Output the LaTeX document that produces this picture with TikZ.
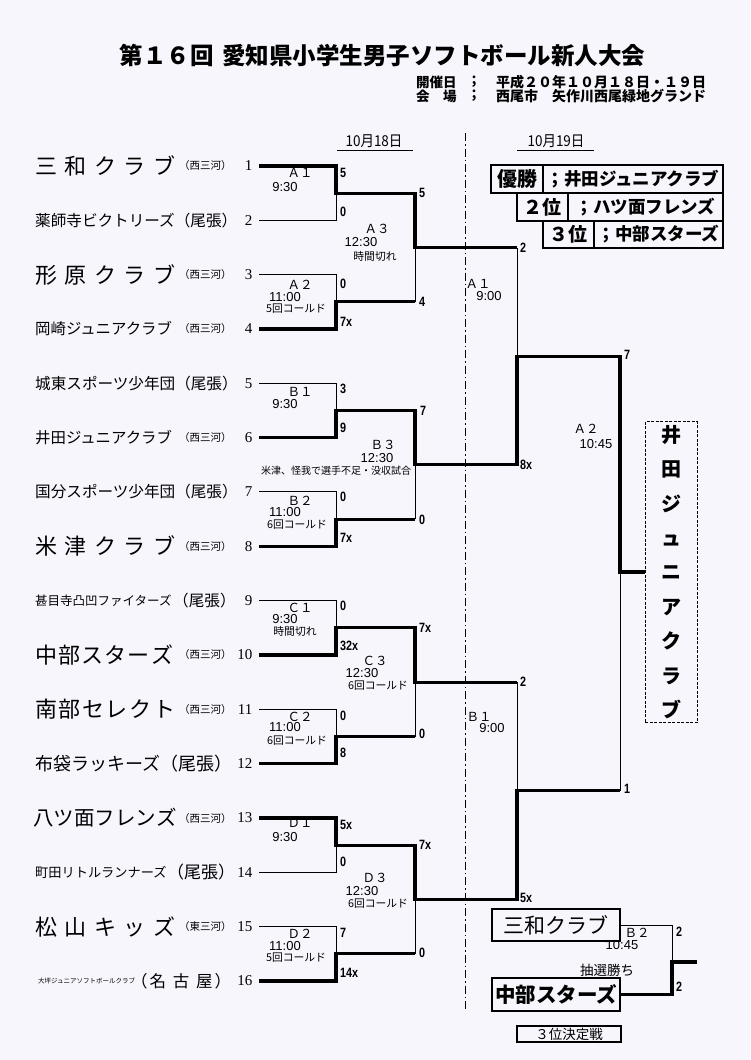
\documentclass[tikz,border=0pt]{standalone}
\usepackage{fontspec}
\setmainfont{Liberation Serif}
\setsansfont{Liberation Sans}
\newfontfamily\jp{Noto Sans CJK JP}
\newfontfamily\jpn[FakeStretch=0.9]{Noto Sans CJK JP}
\newfontfamily\scfont[FakeStretch=0.8]{Liberation Sans}
\newcommand\fsz[1]{\fontsize{#1}{#1}\selectfont}
\definecolor{paper}{RGB}{247,246,252}
\begin{document}
\begin{tikzpicture}[x=1pt,y=-1pt,
  lo/.style={line width=1pt},
  hi/.style={line width=3.2pt},
  team/.style={anchor=west,inner sep=0pt,font=\jp\fsz{15.5}},
  reg/.style={anchor=west,inner sep=0pt,font=\jp\fsz{10.5}},
  num/.style={anchor=east,inner sep=0pt,font=\fsz{15}},
  sc/.style={anchor=west,inner sep=0pt,font=\scfont\bfseries\fsz{13.5}},
  ml/.style={inner sep=0pt,font=\jp\fsz{12.5}},
  mt/.style={inner sep=0pt,font=\sffamily\fsz{13}},
  mn/.style={inner sep=0pt,font=\jp\fsz{10.8}},
  cell/.style={draw,line width=1.1pt,inner sep=0pt,font=\jp\bfseries\fsz{17.5}},
  box3/.style={draw,line width=1.1pt,inner sep=0pt,minimum width=128pt}
]
\useasboundingbox (0,0) rectangle (750,1060);
\fill[paper] (0,0) rectangle (750,1060);

% ---------- heading ----------
\node[font=\jp\bfseries\fsz{23.5},inner sep=0pt] (title) at (382.5,55)
  {第１６回\hspace{9pt}愛知県小学生男子ソフトボール新人大会};
\node[anchor=west,inner sep=0pt,font=\jp\bfseries\fsz{13.5}] (kaiA) at (416,82) {開催日};
\node[inner sep=0pt,font=\jp\bfseries\fsz{13.5}] (colA) at (474,82) {；};
\node[anchor=west,inner sep=0pt,font=\jp\bfseries\fsz{14}] (valA) at (496,82) {平成２０年１０月１８日・１９日};
\node[anchor=west,inner sep=0pt,font=\jp\bfseries\fsz{13.5}] (kaiB) at (416,96) {\makebox[40.5pt]{会\hfill 場}};
\node[inner sep=0pt,font=\jp\bfseries\fsz{13.5}] (colB) at (474,96) {；};
\node[anchor=west,inner sep=0pt,font=\jp\bfseries\fsz{14}] (valB) at (496,96) {西尾市　矢作川西尾緑地グランド};

% dates
\node[inner sep=0pt,font=\jpn\fsz{15}] (d18) at (374,141) {10月18日};
\node[inner sep=0pt,font=\jpn\fsz{15}] (d19) at (556,141) {10月19日};
\coordinate (u18a) at (337,150); \coordinate (u18b) at (413,150);
\coordinate (u19a) at (517,150); \coordinate (u19b) at (594,150);
\draw[lo] (u18a) -- (u18b);
\draw[lo] (u19a) -- (u19b);

% day divider
\coordinate (dtop) at (465,133); \coordinate (dbot) at (465,1010);
\draw[line width=1pt,dash pattern=on 8pt off 3pt on 1.5pt off 3pt] (dtop) -- (dbot);

% ---------- results table ----------
\node[cell,font=\jp\bfseries\fsz{20},minimum width=52pt,minimum height=28pt] (w1) at (517,179) {優勝};
\node[cell,minimum width=180pt,minimum height=28pt] (w1v) at (633,179) {；井田ジュニアクラブ};
\node[cell,font=\jp\bfseries\fsz{19},minimum width=51pt,minimum height=28pt] (w2) at (542.5,207) {２位};
\node[cell,minimum width=155pt,minimum height=28pt] (w2v) at (645.5,207) {；ハツ面フレンズ};
\node[cell,font=\jp\bfseries\fsz{19},minimum width=51pt,minimum height=27pt] (w3) at (568.5,234.5) {３位};
\node[cell,minimum width=129pt,minimum height=27pt] (w3v) at (658.5,234.5) {；中部スターズ};

% ---------- teams ----------
\foreach \i in {1,...,16} {
  \coordinate (r\i) at (259,{166+(\i-1)*54.33});
  \node[num] (k\i) at (252.5,{166+(\i-1)*54.33}) {\i};
}
\node[team,font=\jp\fsz{22}] (n1) at (35,166) {\makebox[140pt]{三\hfill 和\hfill ク\hfill ラ\hfill ブ}};
\node[reg] (g1) at (179,166) {（西三河）};
\node[team,font=\jp\fsz{15.6}] (n2) at (35,220.3) {薬師寺ビクトリーズ（尾張）};
\node[team,font=\jp\fsz{22}] (n3) at (35,274.7) {\makebox[140pt]{形\hfill 原\hfill ク\hfill ラ\hfill ブ}};
\node[reg] (g3) at (179,274.7) {（西三河）};
\node[team,font=\jp\fsz{15.4}] (n4) at (35,329) {岡崎ジュニアクラブ};
\node[reg] (g4) at (179,329) {（西三河）};
\node[team,font=\jp\fsz{15.6}] (n5) at (35,383.3) {城東スポーツ少年団（尾張）};
\node[team,font=\jp\fsz{15.4}] (n6) at (35,437.7) {井田ジュニアクラブ};
\node[reg] (g6) at (179,437.7) {（西三河）};
\node[team,font=\jp\fsz{15.6}] (n7) at (35,492) {国分スポーツ少年団（尾張）};
\node[team,font=\jp\fsz{22}] (n8) at (35,546.3) {\makebox[140pt]{米\hfill 津\hfill ク\hfill ラ\hfill ブ}};
\node[reg] (g8) at (179,546.3) {（西三河）};
\node[team,font=\jp\fsz{12.5}] (n9) at (35,600.7) {甚目寺凸凹ファイターズ};
\node[team,font=\jp\fsz{15.6}] (g9) at (173,600.7) {（尾張）};
\node[team,font=\jp\fsz{22}] (n10) at (35,655) {\makebox[138pt]{中\hfill 部\hfill ス\hfill タ\hfill ー\hfill ズ}};
\node[reg] (g10) at (179,655) {（西三河）};
\node[team,font=\jp\fsz{22}] (n11) at (35,709.3) {\makebox[140pt]{南\hfill 部\hfill セ\hfill レ\hfill ク\hfill ト}};
\node[reg] (g11) at (179,709.3) {（西三河）};
\node[team,font=\jp\fsz{18}] (n12) at (35,763.7) {布袋ラッキーズ（尾張）};
\node[team,font=\jp\fsz{20.5}] (n13) at (35,818) {\makebox[140pt]{八\hfill ツ\hfill 面\hfill フ\hfill レ\hfill ン\hfill ズ}};
\node[reg] (g13) at (179,818) {（西三河）};
\node[team,font=\jp\fsz{13.2}] (n14) at (35,872.3) {町田リトルランナーズ};
\node[team,font=\jp\fsz{17}] (g14) at (167,872.3) {（尾張）};
\node[team,font=\jp\fsz{22}] (n15) at (35,926.7) {\makebox[140pt]{松\hfill 山\hfill キ\hfill ッ\hfill ズ}};
\node[reg] (g15) at (179,926.7) {（東三河）};
\node[team,font=\jp\fsz{6.5}] (n16) at (38,981) {大坪ジュニアソフトボールクラブ};
\node[team,font=\jp\fsz{16.5}] (g16) at (131,981) {\makebox[100pt]{（\hspace{2pt}名\hfill 古\hfill 屋\hspace{2pt}）}};

% ---------- bracket coordinates ----------
\coordinate (q1) at (336,193.2); \coordinate (q2) at (336,301.8);
\coordinate (q3) at (336,410.5); \coordinate (q4) at (336,519.2);
\coordinate (q5) at (336,627.8); \coordinate (q6) at (336,736.5);
\coordinate (q7) at (336,845.2); \coordinate (q8) at (336,953.8);
\coordinate (h1) at (415,247.5); \coordinate (h2) at (415,464.8);
\coordinate (h3) at (415,682.2); \coordinate (h4) at (415,899.5);
\coordinate (s1) at (517,356.2); \coordinate (s2) at (517,790.8);
\coordinate (f) at (620,572);

% champion box
\node[draw,line width=1pt,dash pattern=on 3pt off 1.5pt,minimum width=52pt,minimum height=301pt,
  inner sep=0pt,align=center,font=\jp\bfseries\fontsize{20}{34.4}\selectfont] (champ) at (671,572)
  {井\\田\\ジ\\ュ\\ニ\\ア\\ク\\ラ\\ブ};

% ---------- bracket lines ----------
% group A
\draw[hi] (r1) -- (r1 -| q1) -- (q1) -- (q1 -| h1) -- (h1) -- (h1 -| s1);
\draw[lo] (h1 -| s1) -- (s1);
\draw[lo] (r2) -- (r2 -| q1) -- (q1);
\draw[lo] (r3) -- (r3 -| q2) -- (q2);
\draw[hi] (r4) -- (r4 -| q2) -- (q2) -- (q2 -| h1);
\draw[lo] (q2 -| h1) -- (h1);
% group B (champion path)
\draw[lo] (r5) -- (r5 -| q3) -- (q3);
\draw[hi] (r6) -- (r6 -| q3) -- (q3) -- (q3 -| h2) -- (h2) -- (h2 -| s1) -- (s1) -- (s1 -| f) -- (f) -- (champ.west);
\draw[lo] (r7) -- (r7 -| q4) -- (q4);
\draw[hi] (r8) -- (r8 -| q4) -- (q4) -- (q4 -| h2);
\draw[lo] (q4 -| h2) -- (h2);
% group C
\draw[lo] (r9) -- (r9 -| q5) -- (q5);
\draw[hi] (r10) -- (r10 -| q5) -- (q5) -- (q5 -| h3) -- (h3) -- (h3 -| s2);
\draw[lo] (h3 -| s2) -- (s2);
\draw[lo] (r11) -- (r11 -| q6) -- (q6);
\draw[hi] (r12) -- (r12 -| q6) -- (q6) -- (q6 -| h3);
\draw[lo] (q6 -| h3) -- (h3);
% group D
\draw[hi] (r13) -- (r13 -| q7) -- (q7) -- (q7 -| h4) -- (h4) -- (h4 -| s2) -- (s2) -- (s2 -| f);
\draw[lo] (s2 -| f) -- (f);
\draw[lo] (r14) -- (r14 -| q7) -- (q7);
\draw[lo] (r15) -- (r15 -| q8) -- (q8);
\draw[hi] (r16) -- (r16 -| q8) -- (q8) -- (q8 -| h4);
\draw[lo] (q8 -| h4) -- (h4);

% ---------- scores ----------
\node[sc] (c1) at (340,173) {5};   \node[sc] (c2) at (340,212) {0};
\node[sc] (c3) at (340,284) {0};   \node[sc] (c4) at (340,322) {7x};
\node[sc] (c5) at (340,389) {3};   \node[sc] (c6) at (340,428) {9};
\node[sc] (c7) at (340,497) {0};   \node[sc] (c8) at (340,538) {7x};
\node[sc] (c9) at (340,606) {0};   \node[sc] (c10) at (340,646) {32x};
\node[sc] (c11) at (340,716) {0};  \node[sc] (c12) at (340,753) {8};
\node[sc] (c13) at (340,825) {5x}; \node[sc] (c14) at (340,862) {0};
\node[sc] (c15) at (340,933) {7};  \node[sc] (c16) at (340,973) {14x};
\node[sc] (e1) at (419,193) {5};   \node[sc] (e2) at (419,302) {4};
\node[sc] (e3) at (420,411) {7};   \node[sc] (e4) at (419,520) {0};
\node[sc] (e5) at (419,628) {7x};  \node[sc] (e6) at (419,734) {0};
\node[sc] (e7) at (419,845) {7x};  \node[sc] (e8) at (419,953) {0};
\node[sc] (o1) at (520,248) {2};   \node[sc] (o2) at (520,465) {8x};
\node[sc] (o3) at (520,682) {2};   \node[sc] (o4) at (520,898) {5x};
\node[sc] (o5) at (624,355) {7};   \node[sc] (o6) at (624,789) {1};

% ---------- match labels ----------
\node[ml] (la1) at (300,173) {Ａ１}; \node[mt] (ta1) at (285,187) {9:30};
\node[ml] (la2) at (300,285) {Ａ２}; \node[mt] (ta2) at (285,297) {11:00};
\node[mn] (xa2) at (296,308.5) {5回コールド};
\node[ml] (la3) at (377,229) {Ａ３}; \node[mt] (ta3) at (361,242) {12:30};
\node[mn] (xa3) at (375,256) {時間切れ};
\node[ml] (lb1) at (300,392) {Ｂ１}; \node[mt] (tb1) at (285,404) {9:30};
\node[ml] (lb2) at (300,501) {Ｂ２}; \node[mt] (tb2) at (285,512) {11:00};
\node[mn] (xb2) at (297,524.5) {6回コールド};
\node[ml] (lb3) at (383,445) {Ｂ３}; \node[mt] (tb3) at (377,458) {12:30};
\node[inner sep=0pt,font=\jp\fsz{10}] (xb3) at (336,471) {米津、怪我で選手不足・没収試合};
\node[ml] (lc1) at (300,608) {Ｃ１}; \node[mt] (tc1) at (285,619) {9:30};
\node[mn] (xc1) at (295,631) {時間切れ};
\node[ml] (lc2) at (300,717) {Ｃ２}; \node[mt] (tc2) at (285,727.5) {11:00};
\node[mn] (xc2) at (297,740.5) {6回コールド};
\node[ml] (lc3) at (375,661) {Ｃ３}; \node[mt] (tc3) at (362,673) {12:30};
\node[mn] (xc3) at (378,686) {6回コールド};
\node[ml] (ld1) at (300,823) {Ｄ１}; \node[mt] (td1) at (285,837) {9:30};
\node[ml] (ld2) at (300,934) {Ｄ２}; \node[mt] (td2) at (285,946) {11:00};
\node[mn] (xd2) at (296,958) {5回コールド};
\node[ml] (ld3) at (375,878) {Ｄ３}; \node[mt] (td3) at (362,891) {12:30};
\node[mn] (xd3) at (378,903.5) {6回コールド};
\node[ml] (lA1) at (478,284) {Ａ１}; \node[mt] (tA1) at (489,296) {9:00};
\node[ml] (lA2) at (586,429) {Ａ２}; \node[mt] (tA2) at (596,444) {10:45};
\node[ml] (lB1) at (479,717) {Ｂ１}; \node[mt] (tB1) at (492,728) {9:00};

% ---------- third place ----------
\node[box3,minimum height=32pt,font=\jp\fsz{21}] (tA) at (556,925)
  {\makebox[100pt]{三\hfill 和\hfill ク\hfill ラ\hfill ブ}};
\node[box3,minimum height=33pt,font=\jp\bfseries\fsz{20.5}] (tB) at (556,994.5) {中部スターズ};
\coordinate (t) at (672,962); \coordinate (tend) at (697,962);
\draw[lo] (tA.east) -| (t);
\draw[hi] (tB.east) -| (t) -- (tend);
\node[sc] (p1) at (676,932) {2};
\node[sc] (p2) at (676,987) {2};
\node[ml] (lB2) at (637,933) {Ｂ２}; \node[mt] (tB2) at (622,945) {10:45};
\node[inner sep=0pt,font=\jp\fsz{13.5}] (lot) at (607,970) {抽選勝ち};
\node[draw,line width=1.1pt,minimum width=104pt,minimum height=16pt,inner sep=0pt,
  font=\jp\fsz{13.5}] (k3) at (569,1034) {３位決定戦};
\end{tikzpicture}
\end{document}
